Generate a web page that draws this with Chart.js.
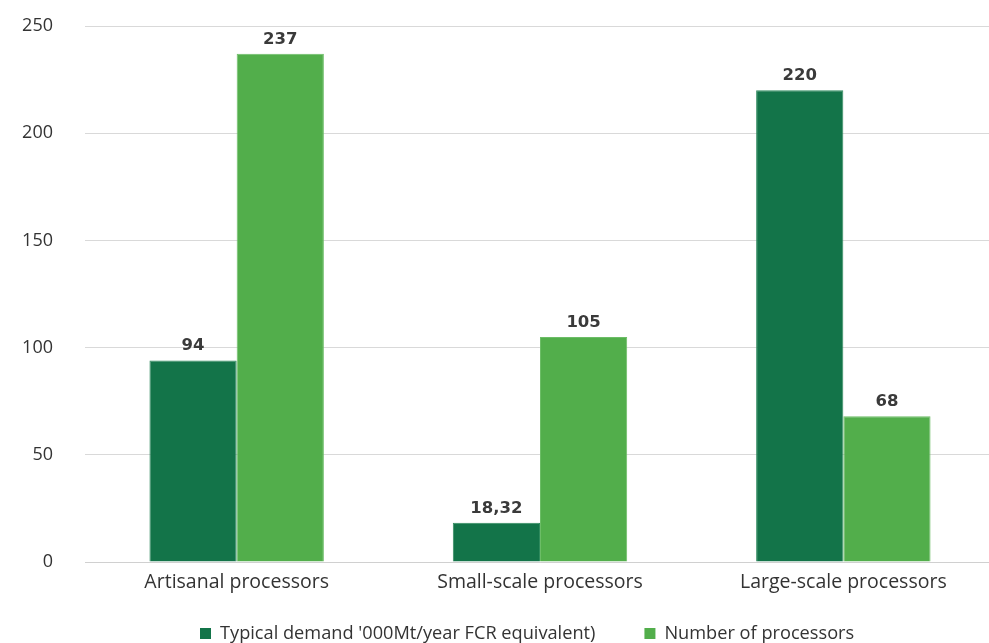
<!DOCTYPE html>
<html>
<head>
<meta charset="utf-8">
<script src="https://cdn.jsdelivr.net/npm/chart.js@4/dist/chart.umd.min.js"></script>
<style>
  html, body { margin: 0; padding: 0; background: #ffffff; overflow: hidden; }
  #wrap { position: absolute; left: 0; top: 0; width: 1000px; height: 643px; }
</style>
</head>
<body>
<div id="wrap"><canvas id="chart"></canvas></div>
<script>
const categories = ['Artisanal processors', 'Small-scale processors', 'Large-scale processors'];
const seriesNames = ["Typical demand '000Mt/year FCR equivalent)", 'Number of processors'];
const demandValues = [94, 18.32, 220];
const processorCounts = [237, 105, 68];
const yTicks = [0, 50, 100, 150, 200, 250];

const darkGreen = '#137449';
const lightGreen = '#52ae4b';
const textColor = '#333333';

// Writes each bar's value above it, using a comma as the decimal mark
const valueLabels = {
  id: 'valueLabels',
  afterDatasetsDraw(chart) {
    const ctx = chart.ctx;
    ctx.save();
    ctx.font = 'bold 16.5px "DejaVu Sans"';
    ctx.fillStyle = '#3a3a3a';
    ctx.textAlign = 'center';
    ctx.textBaseline = 'alphabetic';
    chart.data.datasets.forEach((ds, i) => {
      chart.getDatasetMeta(i).data.forEach((bar, j) => {
        const txt = String(ds.data[j]).replace('.', ',');
        ctx.fillText(txt, bar.x, bar.y - 10);
      });
    });
    ctx.restore();
  }
};

// Legend row under the axis: colour square, label, wide gap between entries
const bottomLegend = {
  id: 'bottomLegend',
  afterDraw(chart) {
    const ctx = chart.ctx;
    ctx.save();
    ctx.font = '18.2px "Open Sans"';
    ctx.textBaseline = 'middle';
    ctx.textAlign = 'left';
    const y = 634;
    let x = 200;
    chart.data.datasets.forEach((ds) => {
      ctx.fillStyle = ds.backgroundColor;
      ctx.fillRect(x, y - 6, 11, 11);
      ctx.fillStyle = textColor;
      ctx.fillText(ds.label, x + 20, y);
      x += 20 + ctx.measureText(ds.label).width + 49;
    });
    ctx.restore();
  }
};

new Chart(document.getElementById('chart'), {
  type: 'bar',
  data: {
    labels: categories,
    datasets: [
      { label: seriesNames[0], data: demandValues, backgroundColor: darkGreen,
        borderColor: '#2f8a5e', borderWidth: { right: 1, top: 1, left: 1 } },
      { label: seriesNames[1], data: processorCounts, backgroundColor: lightGreen,
        borderColor: '#6cbd66', borderWidth: { right: 1, top: 1, left: 1 } }
    ]
  },
  options: {
    responsive: true,
    maintainAspectRatio: false,
    animation: false,
    layout: { padding: { top: 26, right: 5, left: 0, bottom: 40.6 } },
    datasets: { bar: { categoryPercentage: 0.575, barPercentage: 1.0 } },
    scales: {
      x: {
        grid: { display: false, drawTicks: false },
        border: { display: true, color: '#d0d0d0', width: 1 },
        ticks: { color: textColor, font: { family: 'Open Sans', size: 19.5 }, padding: 8.5 }
      },
      y: {
        min: 0, max: 250,
        afterFit(scale) {
          scale.width = 85;
          scale.paddingTop = 0;
          scale.paddingBottom = 0;
        },
        afterBuildTicks(scale) { scale.ticks = yTicks.map(v => ({ value: v })); },
        grid: { color: '#d9d9d9', drawTicks: false },
        border: { display: false },
        ticks: { color: textColor, font: { family: 'Open Sans', size: 18 }, padding: 32 }
      }
    },
    plugins: {
      legend: { display: false },
      tooltip: { enabled: false }
    }
  },
  plugins: [valueLabels, bottomLegend]
});
</script>
</body>
</html>
